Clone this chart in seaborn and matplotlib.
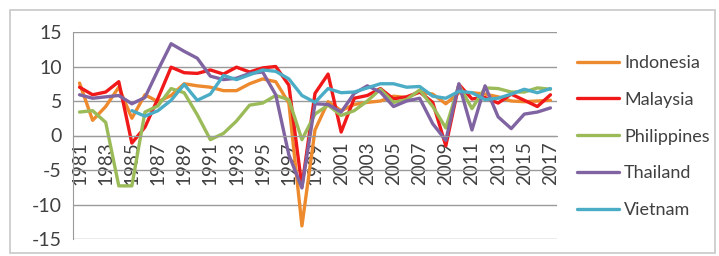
import numpy as np
import pandas as pd
import matplotlib
matplotlib.use("Agg")
import matplotlib.pyplot as plt
import seaborn as sns
from matplotlib.patches import Rectangle

years = list(range(1981, 2018))
indonesia = [7.6, 2.2, 4.2, 7.0, 2.5, 5.9, 4.9, 5.8, 7.5, 7.2, 7.0, 6.5, 6.5, 7.5, 8.2, 7.8, 4.7, -13.1, 0.8,
             4.9, 3.6, 4.5, 4.8, 5.0, 5.7, 5.5, 6.3, 6.0, 4.6, 6.2, 6.2, 6.0, 5.6, 5.0, 4.9, 5.0, 5.1]
malaysia = [7.0, 5.9, 6.3, 7.8, -1.1, 1.2, 5.4, 9.9, 9.1, 9.0, 9.5, 8.9, 9.9, 9.2, 9.8, 10.0, 7.3, -7.4, 6.1,
            8.9, 0.5, 5.4, 5.8, 6.8, 5.3, 5.6, 6.3, 4.8, -1.5, 7.4, 5.3, 5.5, 4.7, 6.0, 5.1, 4.2, 5.9]
philippines = [3.4, 3.6, 1.9, -7.3, -7.3, 3.4, 4.3, 6.8, 6.2, 3.0, -0.6, 0.3, 2.1, 4.4, 4.7, 5.8, 5.2, -0.6, 3.1,
               4.4, 2.9, 3.6, 5.0, 6.7, 4.8, 5.2, 6.6, 4.2, 1.1, 7.3, 3.9, 6.9, 6.8, 6.3, 6.3, 6.9, 6.7]
thailand = [5.9, 5.4, 5.6, 5.8, 4.6, 5.5, 9.5, 13.3, 12.2, 11.2, 8.6, 8.1, 8.3, 9.0, 9.2, 5.9, -2.8, -7.6, 4.6,
            4.5, 3.4, 6.1, 7.2, 6.3, 4.2, 5.0, 5.4, 1.7, -0.7, 7.5, 0.8, 7.2, 2.7, 1.0, 3.1, 3.4, 4.0]
vietnam = [np.nan, np.nan, np.nan, np.nan, 3.6, 2.8, 3.6, 5.1, 7.4, 5.1, 6.0, 8.7, 8.1, 8.8, 9.5, 9.3, 8.2, 5.8, 4.8,
           6.8, 6.2, 6.3, 6.9, 7.5, 7.5, 7.0, 7.1, 5.7, 5.4, 6.4, 6.2, 5.2, 5.4, 6.0, 6.7, 6.2, 6.8]
countries = ["Indonesia", "Malaysia", "Philippines", "Thailand", "Vietnam"]
colors = ["#EE8A2E", "#F01818", "#9BBB59", "#8064A2", "#4BACC6"]
ytick_vals = [-15, -10, -5, 0, 5, 10, 15]
xtick_labels = [str(y) for y in range(1981, 2018, 2)]

series = [indonesia, malaysia, philippines, thailand, vietnam]
df = pd.DataFrame({
    "year": np.tile(years, len(countries)),
    "value": np.concatenate([np.array(s, dtype=float) for s in series]),
    "country": np.repeat(countries, len(years)),
})

sns.set_style("white")
plt.rcParams["font.family"] = ["Lato", "DejaVu Sans"]

fig = plt.figure(figsize=(7.19, 2.56), dpi=100)
ax = fig.add_axes([73/719, 1-239/256, (557-73)/719, (239-32)/256])

sns.lineplot(data=df, x="year", y="value", hue="country", palette=colors,
             hue_order=countries, linewidth=2.4, ax=ax, legend=True, sort=False)

ax.set_xlim(1980.5, 2017.5)
ax.set_ylim(-15, 15)
ax.set_yticks(ytick_vals)
ax.set_yticklabels([str(v) for v in ytick_vals])
ax.set_xticks(list(range(1981, 2018, 2)))
ax.set_xticklabels(xtick_labels)
ax.set_xticks([y + 0.5 for y in range(1980, 2018)], minor=True)
ax.tick_params(axis="x", which="major", length=0, pad=4, labelrotation=90, labelsize=13.5, labelcolor="#404040")
ax.tick_params(axis="x", which="minor", length=4, color="#999999", direction="out")
ax.tick_params(axis="y", length=4, color="#999999", direction="out", pad=4, labelsize=14, labelcolor="#404040")
for t in ax.get_xticklabels():
    t.set_rotation(90)
    t.set_va("top")
    t.set_ha("center")
ax.set_xlabel("")
ax.set_ylabel("")
ax.grid(axis="y", color="#9a9a9a", linewidth=1.0)
ax.set_axisbelow(True)
for s in ["top", "right"]:
    ax.spines[s].set_visible(False)
ax.spines["left"].set_color("#9a9a9a")
ax.spines["bottom"].set_position(("data", 0))
ax.spines["bottom"].set_color("#9a9a9a")

leg = ax.legend(loc="upper left", bbox_to_anchor=(577/719, 1-55/256), bbox_transform=fig.transFigure,
                frameon=False, fontsize=13, handlelength=2.3, handletextpad=0.3, labelspacing=1.15,
                borderpad=0, borderaxespad=0)
for t in leg.get_texts():
    t.set_color("#404040")
for l in leg.get_lines():
    l.set_linewidth(2.4)

fig.patches.append(Rectangle((10/719, 3/256), 705/719, 243/256, transform=fig.transFigure,
                             fill=False, edgecolor="#c8c8c8", linewidth=1.2))
fig.savefig("out.png", dpi=100)
